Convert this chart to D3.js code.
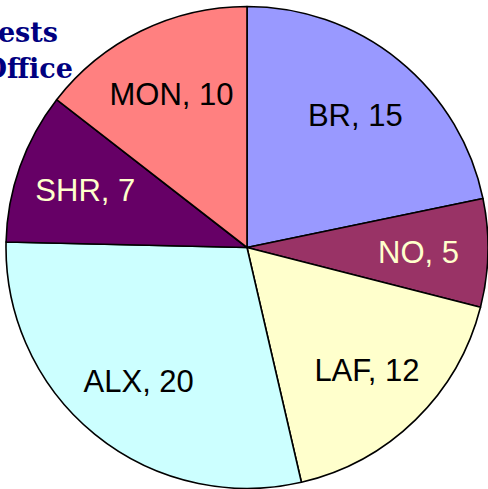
<!DOCTYPE html>
<html><head><meta charset="utf-8">
<script src="https://cdn.jsdelivr.net/npm/d3@7"></script>
<style>html,body{margin:0;padding:0;background:#fff;overflow:hidden}</style>
</head><body>
<svg id="c" width="488" height="489"></svg>
<script>
const offices = ["BR","NO","LAF","ALX","SHR","MON"];
const counts = [15,5,12,20,7,10];
const fills = ["#9999ff","#993366","#ffffcc","#ccffff","#660066","#ff8080"];
const labelColors = ["#000","#ffffcc","#000","#000","#ffffcc","#000"];
const titleLines = ["Arrests","by Office"];

const svg = d3.select("#c");
const cx = 247, cy = 247.5, r = 241;
const g = svg.append("g").attr("transform", `translate(${cx},${cy})`);
const data = offices.map((o,i)=>({name:o, value:counts[i], i}));
const pie = d3.pie().value(d=>d.value).sort(null);
const arc = d3.arc().innerRadius(0).outerRadius(r);
const lr = r*0.712;
const labelArc = d3.arc().innerRadius(lr).outerRadius(lr);
const arcs = pie(data);
g.selectAll("path").data(arcs).join("path")
  .attr("d", arc).attr("fill", d=>fills[d.data.i])
  .attr("stroke","#000").attr("stroke-width",1.6).attr("stroke-linejoin","round");
g.selectAll("text").data(arcs).join("text")
  .attr("transform", d=>`translate(${labelArc.centroid(d)})`)
  .attr("text-anchor","middle").attr("dy","0.36em")
  .attr("font-family","'Liberation Sans', Arial, sans-serif").attr("font-size",31)
  .attr("fill", d=>labelColors[d.data.i])
  .text(d=>`${d.data.name}, ${d.data.value}`);

svg.selectAll("text.title").data(titleLines).join("text").attr("class","title")
  .attr("x",(d,i)=>i===0?58:73).attr("y",(d,i)=>i===0?42:78)
  .attr("text-anchor","end")
  .attr("font-family","'DejaVu Serif', serif").attr("font-weight","bold").attr("font-size",27)
  .attr("fill","#000080").text(d=>d);
</script>
</body></html>
